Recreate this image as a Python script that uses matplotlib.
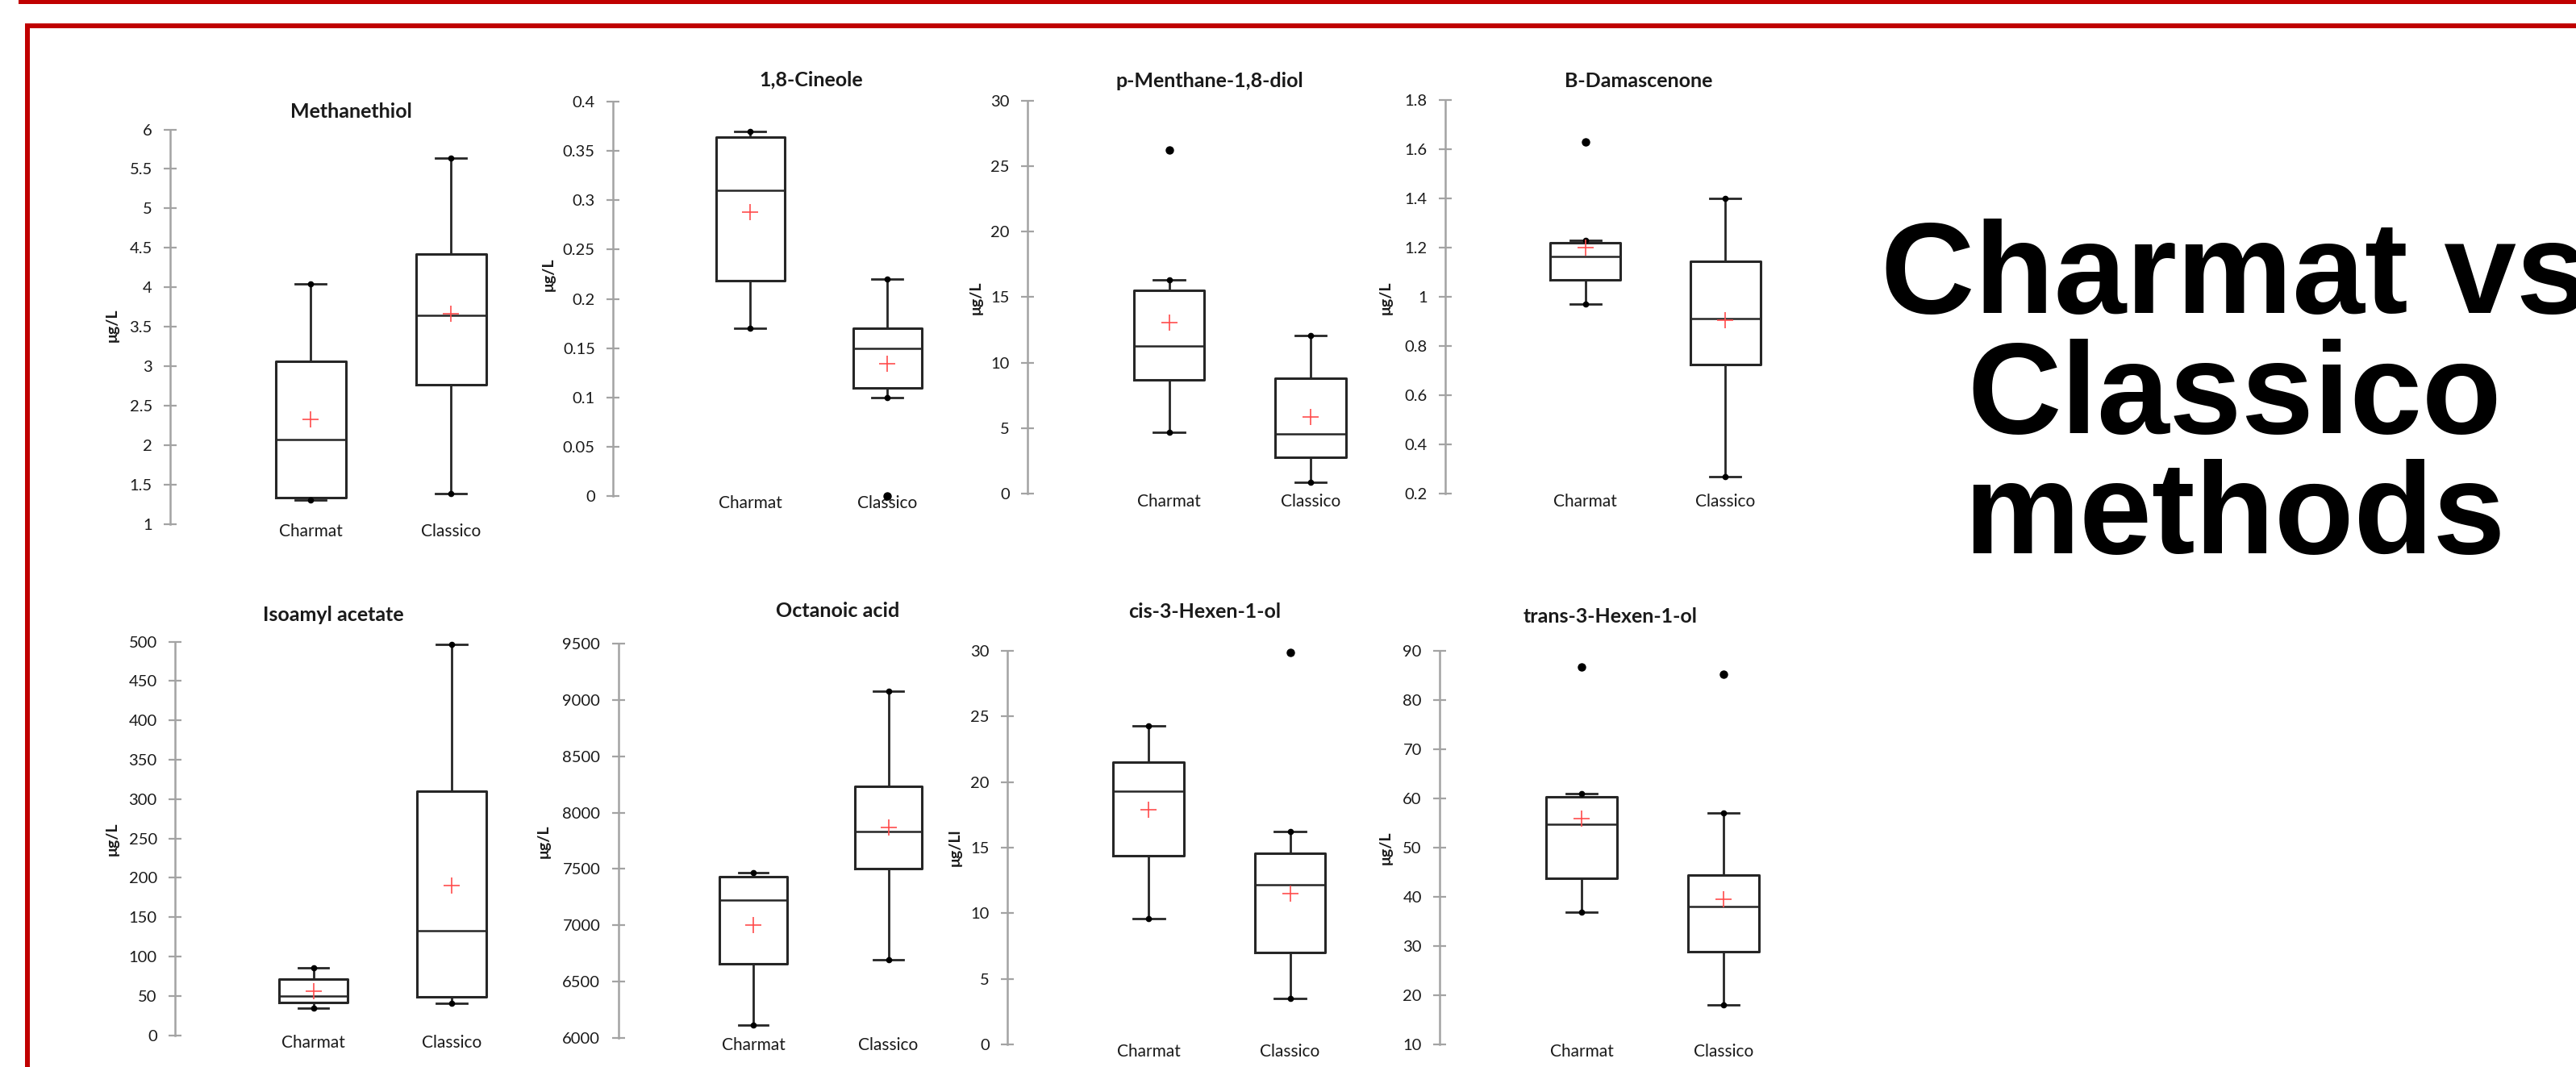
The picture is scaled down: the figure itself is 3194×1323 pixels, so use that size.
import numpy as np
import matplotlib
matplotlib.use("Agg")
import matplotlib.pyplot as plt
from matplotlib.patches import Rectangle
from matplotlib.ticker import FuncFormatter

W, H = 3194, 1323
DPI = 100

GROUPS = ["Charmat", "Classico"]
COMPOUNDS = ["Methanethiol", "1,8-Cineole", "p-Menthane-1,8-diol", "B-Damascenone",
             "Isoamyl acetate", "Octanoic acid", "cis-3-Hexen-1-ol", "trans-3-Hexen-1-ol"]
UNITS = ["μg/L", "μg/L", "μg/L", "μg/L", "μg/L", "μg/L", "μg/Ll", "μg/L"]

# summary statistics per compound, as (Charmat, Classico)
WHIS_LO = [(1.30, 1.38), (0.170, 0.100), (4.67, 0.91), (0.97, 0.27),
           (34.5, 40.3), (6117, 6693), (9.6, 3.5), (36.9, 18.1)]
Q1 = [(1.33, 2.76), (0.218, 0.110), (8.72, 2.77), (1.07, 0.727),
      (41.2, 48.7), (6655, 7503), (14.4, 6.98), (43.8, 28.8)]
MEDIAN = [(2.07, 3.64), (0.310, 0.150), (11.25, 4.59), (1.165, 0.912),
          (49.6, 132.4), (7227, 7829), (19.3, 12.2), (54.7, 38.1)]
Q3 = [(3.06, 4.42), (0.364, 0.170), (15.5, 8.8), (1.22, 1.146),
      (71.4, 309.7), (7430, 8234), (21.5, 14.55), (60.3, 44.4)]
WHIS_HI = [(4.04, 5.64), (0.370, 0.220), (16.3, 12.1), (1.23, 1.40),
           (85.7, 497.0), (7468, 9080), (24.3, 16.2), (61.0, 57.0)]
MEAN = [(2.32, 3.66), (0.288, 0.134), (13.07, 5.87), (1.20, 0.905),
        (56.3, 190.3), (7004, 7865), (17.9, 11.5), (55.9, 39.5)]
OUTLIERS = [([], []), ([], [0.0]), ([26.2], []), ([1.63], []),
            ([], []), ([], []), ([], [29.9]), ([86.8], [85.3])]
Y_RANGE = [(1, 6, 0.5), (0, 0.4, 0.05), (0, 30, 5), (0.2, 1.8, 0.2),
           (0, 500, 50), (6000, 9500, 500), (0, 30, 5), (10, 90, 10)]

# panel geometry in pixels: y-axis x, top tick y, bottom tick y, px per category
PANELS = [(211, 160.5, 649.5, 174), (760, 126, 615, 170),
          (1274, 124.5, 612.4, 175.5), (1792, 124, 612.4, 173.6),
          (217, 795.6, 1283.7, 171.5), (766.5, 798, 1287, 167.5),
          (1249, 807, 1295, 175.3), (1785, 807, 1295, 176)]
TITLE_XY = [(435, 138), (1006, 99), (1500, 101), (2032, 101),
            (413, 762), (1039, 757), (1494, 759), (1997, 765)]
YLABEL_XY = [(139, 403), (680, 340), (1210, 369), (1718, 369),
             (139, 1040), (674, 1043), (1184, 1051), (1718, 1051)]

RED = "#c00000"
INK = "#262626"
AXIS = "#a3a3a3"
FONT = "Lato"


def fx(x):
    return x / W


def fy(y):
    return 1 - y / H


fig = plt.figure(figsize=(W / DPI, H / DPI), dpi=DPI)
fig.patch.set_facecolor("white")

# red frame
fig.add_artist(Rectangle((fx(23), fy(5)), 1, 5 / H, transform=fig.transFigure,
                         color=RED, lw=0))
fig.add_artist(Rectangle((fx(31), fy(35)), 1, 6 / H, transform=fig.transFigure,
                         color=RED, lw=0))
fig.add_artist(Rectangle((fx(31), 0), 6 / W, fy(29), transform=fig.transFigure,
                         color=RED, lw=0))

fmt = FuncFormatter(lambda v, _: f"{round(v, 6):g}")

for i, name in enumerate(COMPOUNDS):
    ax_x, y_top, y_bot, unit = PANELS[i]
    span = 2.6
    ax = fig.add_axes([fx(ax_x), fy(y_bot), span * unit / W, (y_bot - y_top) / H])
    ax.patch.set_alpha(0)

    stats = []
    for g in range(2):
        stats.append(dict(whislo=WHIS_LO[i][g], q1=Q1[i][g], med=MEDIAN[i][g],
                          q3=Q3[i][g], whishi=WHIS_HI[i][g], mean=MEAN[i][g],
                          fliers=OUTLIERS[i][g]))
    art = ax.bxp(stats, positions=[1, 2], widths=0.5, capwidths=0.22,
                 showmeans=True, manage_ticks=False,
                 boxprops=dict(color=INK, lw=2.2),
                 medianprops=dict(color=INK, lw=1.8),
                 whiskerprops=dict(color=INK, lw=2.0),
                 capprops=dict(color=INK, lw=2.0),
                 meanprops=dict(marker="+", markeredgecolor="#ff4d4d",
                                markersize=15, markeredgewidth=1.2),
                 flierprops=dict(marker="o", markerfacecolor="black",
                                 markeredgecolor="black", markersize=6.5))
    for group in art.values():
        for a in group:
            a.set_clip_on(False)
    for g in range(2):
        ax.plot([g + 1, g + 1], [WHIS_LO[i][g], WHIS_HI[i][g]], ls="none",
                marker="o", ms=4.5, color="black", clip_on=False)

    lo, hi, step = Y_RANGE[i]
    ax.set_ylim(lo, hi)
    ax.set_yticks(np.arange(lo, hi + step / 2, step))
    ax.yaxis.set_major_formatter(fmt)
    ax.set_xlim(0, span)
    ax.set_xticks([1, 2])
    ax.set_xticklabels(GROUPS)

    for s in ("top", "right", "bottom"):
        ax.spines[s].set_visible(False)
    ax.spines["left"].set_color(AXIS)
    ax.spines["left"].set_linewidth(1.8)
    ax.tick_params(axis="y", direction="inout", length=11, width=1.6,
                   color=AXIS, pad=10.5, labelsize=14.5, labelcolor="#1a1a1a")
    ax.tick_params(axis="x", length=0, pad=6.8, labelsize=15, labelcolor="#1a1a1a")
    for lab in ax.get_yticklabels() + ax.get_xticklabels():
        lab.set_fontfamily(FONT)
    for lab in ax.get_xticklabels():
        lab.set_va("center")

    tx, ty = TITLE_XY[i]
    fig.text(fx(tx), fy(ty), name, ha="center", va="center", fontsize=18,
             fontweight="bold", family=FONT, color="#1a1a1a")
    lx, ly = YLABEL_XY[i]
    fig.text(fx(lx), fy(ly), UNITS[i], ha="center", va="center", rotation=90,
             fontsize=14, fontweight="bold", family=FONT, color="#1a1a1a")

# headline on the right
for line, base in zip(["Charmat vs", "Classico", "methods"], [388, 537, 686]):
    fig.text(fx(2771), fy(base), line, ha="center", va="baseline", fontsize=116,
             fontweight="bold", family="Liberation Sans", color="black")

fig.savefig("out.png", dpi=DPI, facecolor="white")
